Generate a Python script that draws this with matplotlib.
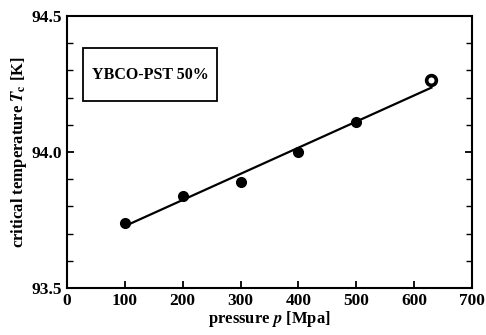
import numpy as np
import matplotlib.pyplot as plt
from matplotlib.ticker import MultipleLocator
from matplotlib.patches import Rectangle

plt.rcParams.update({
    "font.family": ["Liberation Serif", "DejaVu Serif"],
    "font.weight": "bold",
    "axes.labelweight": "bold",
    "mathtext.fontset": "stix",
    "xtick.direction": "in",
    "ytick.direction": "in",
})

# data
pressure = [100, 200, 300, 400, 500]
tc = [93.74, 93.84, 93.89, 94.00, 94.11]
pressure_last = [630]
tc_last = [94.265]
fit_p = [100, 630]
fit_tc = [93.728, 94.237]

xticks = [0, 100, 200, 300, 400, 500, 600, 700]
yticks = [93.5, 94.0, 94.5]

fig = plt.figure(figsize=(4.86, 3.35), dpi=100)
ax = fig.add_axes([0.138, 0.140, 0.833, 0.812])

ax.plot(fit_p, fit_tc, color="black", linewidth=1.6)
ax.plot(pressure, tc, "o", color="black", markersize=7)
ax.plot(pressure_last, tc_last, "o", markerfacecolor="white",
        markeredgecolor="black", markeredgewidth=2.6, markersize=7)

ax.set_xlim(0, 700)
ax.set_ylim(93.5, 94.5)
ax.set_xticks(xticks)
ax.set_yticks(yticks)
ax.set_yticklabels(["93.5", "94.0", "94.5"])
ax.yaxis.set_minor_locator(MultipleLocator(0.1))
ax.tick_params(axis="both", which="major", labelsize=12.5, length=5, width=1.3)
ax.tick_params(axis="y", which="minor", length=4, width=1.0)
ax.tick_params(axis="y", which="both", right=True)
for s in ax.spines.values():
    s.set_linewidth(1.5)

ax.set_xlabel(r"pressure $\mathbf{\it p}$ [Mpa]", fontsize=12, labelpad=0)
ax.set_ylabel(r"critical temperature $T_{\rm c}$ [K]", fontsize=12, labelpad=2)

# label box
ax.add_patch(Rectangle((0.0395, 0.6875), 0.331, 0.195, transform=ax.transAxes,
                       facecolor="white", edgecolor="black", linewidth=1.3))
ax.text(0.205, 0.785, "YBCO-PST 50%", transform=ax.transAxes,
        fontsize=11.5, fontweight="bold", ha="center", va="center")

fig.savefig("out.png", dpi=100)
